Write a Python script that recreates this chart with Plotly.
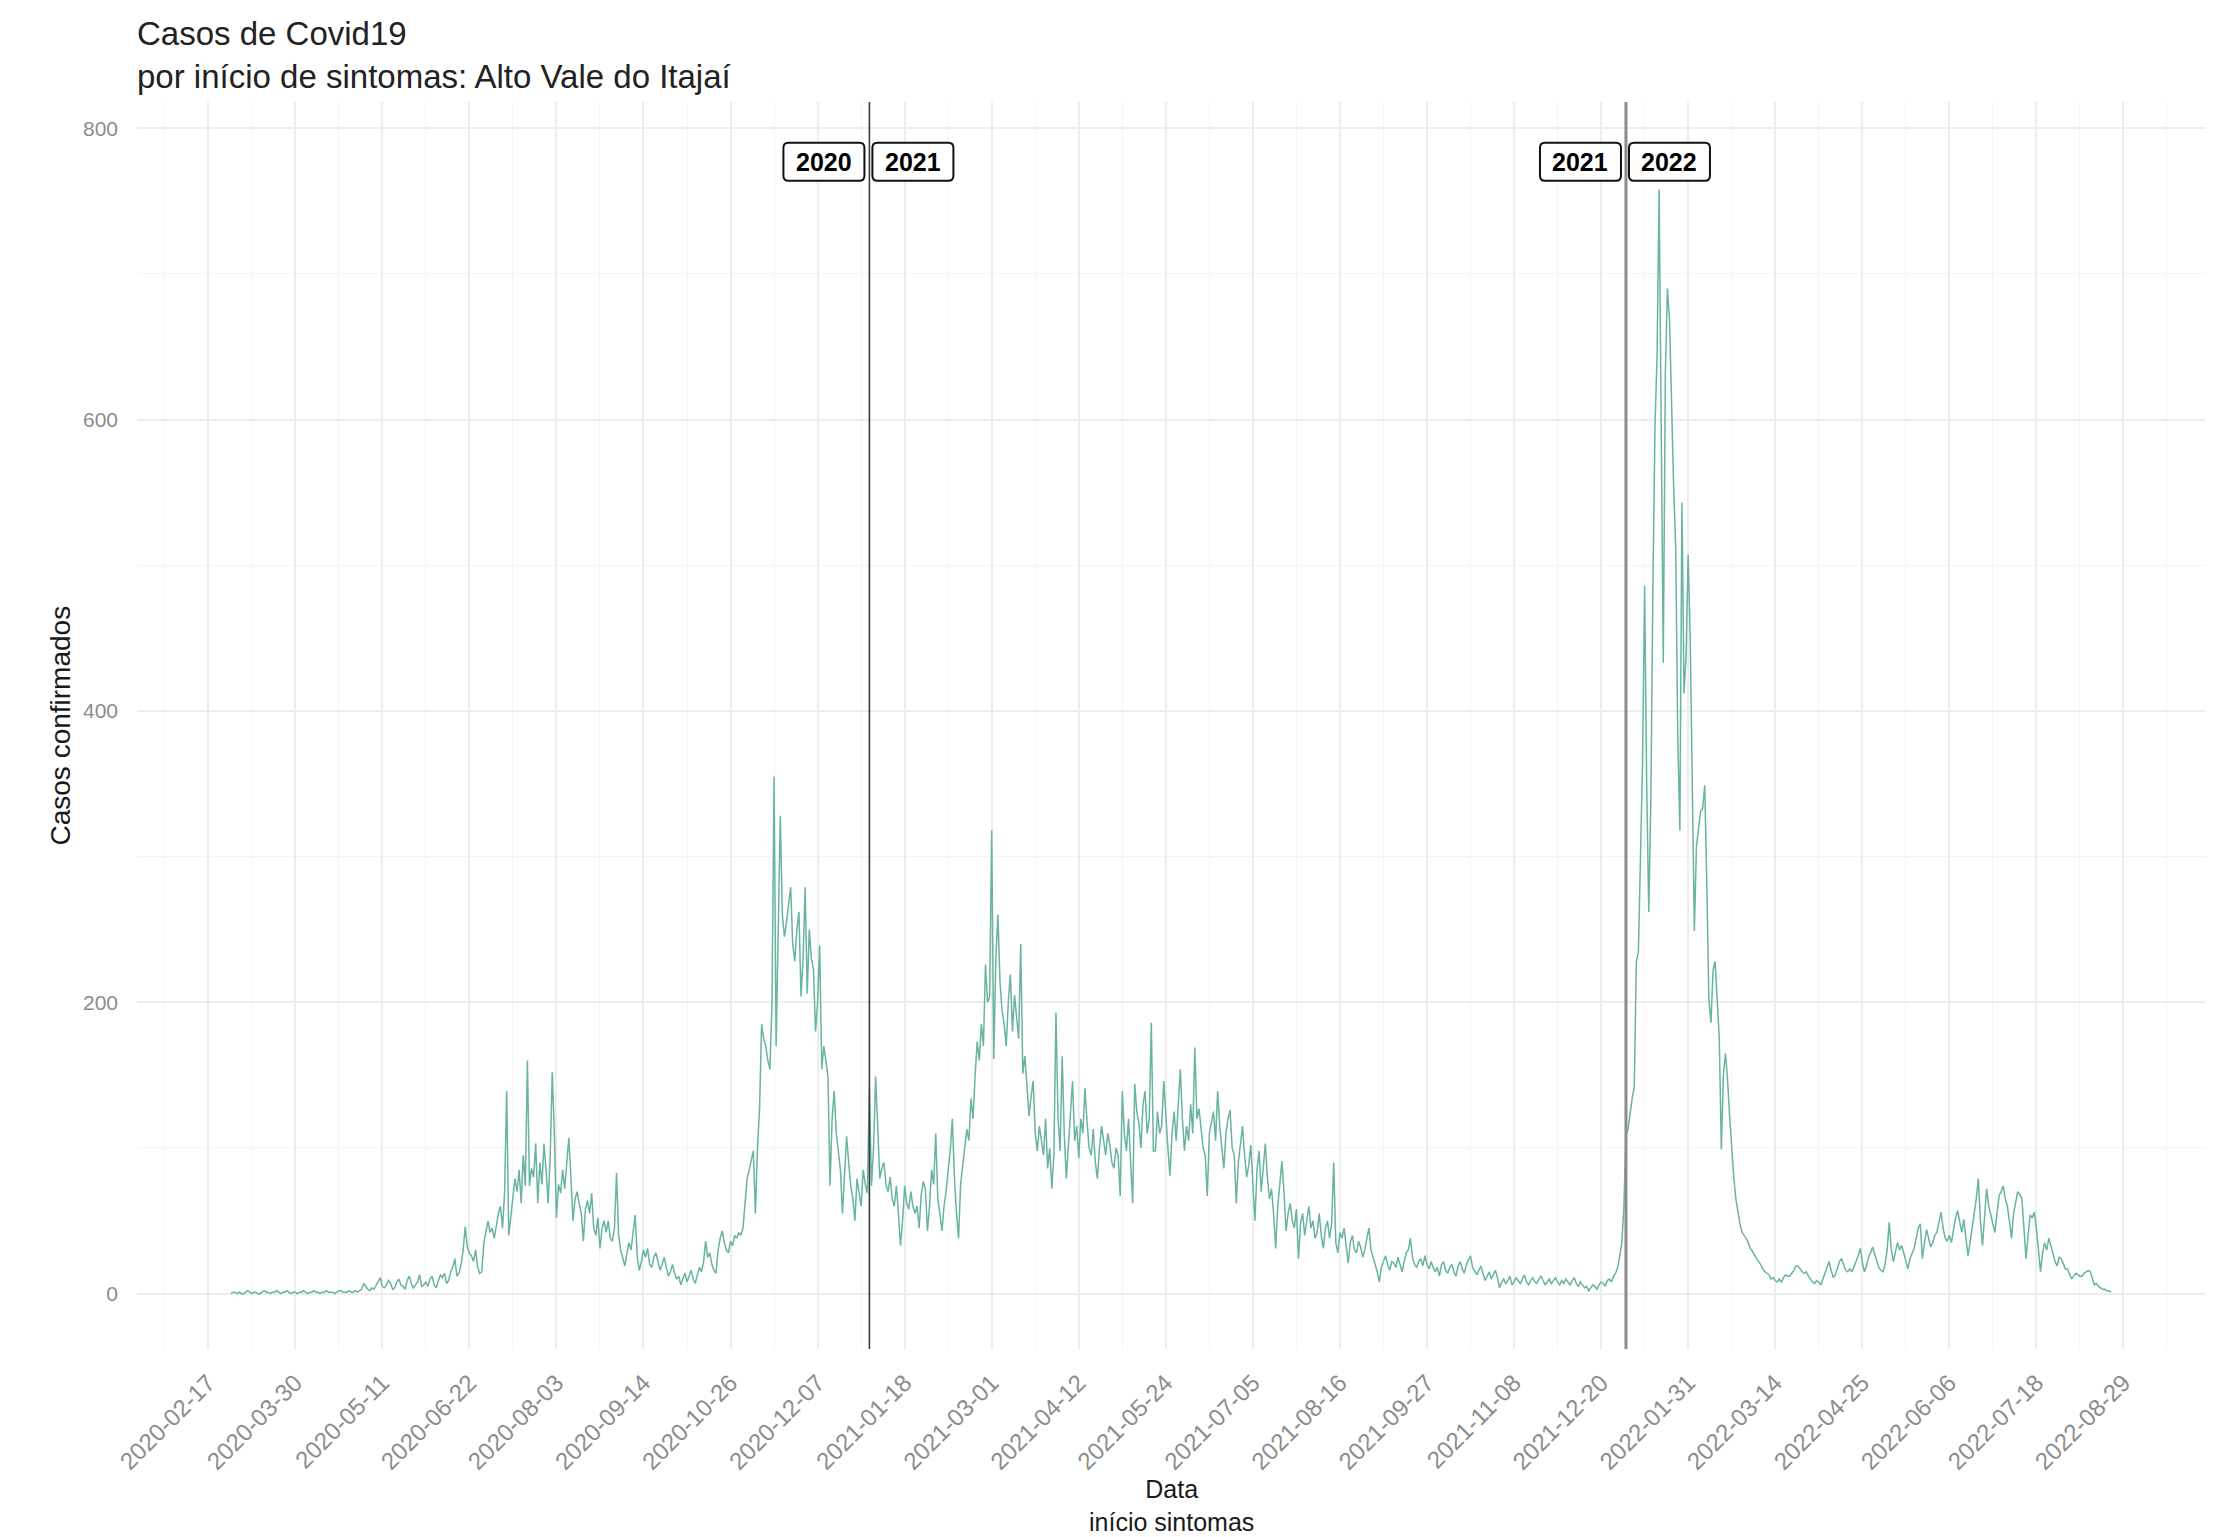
import pandas as pd
import plotly.graph_objects as go

# ---------------- data (daily confirmed cases by symptom onset) ----------------
start_date = "2020-02-28"

feb_2020 = [0, 1]
mar_2020 = [1,0,1,0,0,1,2,1,0,1,1,0,0,1,2,1,1,0,1,1,2,1,0,1,1,2,1,0,1,1,0]
apr_2020 = [1,1,2,1,0,1,1,2,1,1,0,1,1,2,1,1,1,0,1,2,2,1,1,1,2,1,1,2,1,2]
may_2020 = [3,7,5,3,2,4,3,6,8,11,5,4,6,9,7,3,4,8,10,6,5,3,9,12,7,4,6,8,13,5,6]
jun_2020 = [8,5,10,12,6,4,9,13,11,14,7,9,15,18,24,12,14,20,30,46,32,28,26,22,30,18,14,15,35,44]
jul_2020 = [50,42,45,38,48,55,60,45,70,139,40,52,65,79,70,85,62,95,74,160,74,86,80,103,62,90,75,103,85,62,95]
aug_2020 = [152,110,52,75,69,85,72,90,107,80,50,65,70,62,55,36,58,64,55,69,45,40,52,31,45,50,42,50,38,36,45]
sep_2020 = [83,40,30,25,19,28,35,30,42,54,25,16,22,30,25,31,20,18,25,28,22,16,20,25,18,12,15,20,14,10]
oct_2020 = [12,6,10,14,8,12,16,10,7,13,18,15,22,36,25,28,20,16,14,30,38,43,35,30,28,36,33,40,38,42,40]
nov_2020 = [45,60,79,85,92,98,55,100,127,185,175,170,160,154,200,355,170,240,328,260,245,255,267,279,240,228,250,262,204,230]
dec_2020 = [279,206,250,230,223,180,200,239,154,170,160,149,74,120,139,110,98,85,55,80,108,90,74,65,50,79,70,60,85,75,69]

jan_2021 = [141,74,100,149,110,79,86,90,75,70,80,65,60,74,55,33,50,74,62,58,70,60,55,60,45,68,77,72,43,60,85]
feb_2021 = [75,110,65,55,43,60,70,85,98,120,80,55,38,75,90,100,113,105,134,120,150,173,160,185,170,226,200,204]
mar_2021 = [318,161,230,260,214,194,185,170,200,219,180,205,190,175,240,151,163,140,122,135,146,110,98,115,103,95,120,86,100,72,95]
apr_2021 = [193,120,98,163,110,79,100,125,146,105,115,93,120,110,141,118,100,95,113,90,79,100,115,105,95,110,102,90,86,100]
may_2021 = [95,67,139,110,98,120,90,62,144,125,117,100,130,139,110,120,186,98,98,125,110,115,146,120,100,81,110,125,105,130,154]
jun_2021 = [120,98,115,105,130,110,169,120,127,115,100,95,67,110,117,125,105,139,115,100,86,110,120,126,100,95,62,90,105,115]
jul_2021 = [95,80,88,102,75,50,85,98,70,90,103,80,65,72,55,31,60,75,91,70,43,55,62,50,45,58,24,48,55,40,52]
aug_2021 = [60,45,50,38,42,55,40,31,45,50,38,48,90,35,28,42,38,45,33,21,35,40,30,28,36,32,25,30,38,45,30]
sep_2021 = [25,20,15,8,18,22,26,20,16,22,21,18,25,20,15,22,28,30,38,25,20,18,22,24,19,26,20,17,22,18]
oct_2021 = [15,18,12,20,22,16,14,18,20,15,12,19,22,17,14,20,23,26,18,15,13,16,19,14,9,12,15,10,13,16,11]
nov_2021 = [4,8,10,7,9,12,6,8,11,9,7,10,13,8,6,9,11,8,7,10,12,9,6,8,10,7,9,11,8,6]
dec_2021 = [9,7,10,8,6,9,11,7,5,8,6,4,5,2,4,6,5,3,6,8,7,5,9,10,8,12,14,18,26,35,60]

jan_2022 = [108,113,125,134,142,228,235,302,365,486,349,262,339,486,596,643,758,596,433,632,690,669,606,554,512,381,318,543,412,438,507]
feb_2022 = [449,349,249,307,320,331,333,349,281,202,186,222,228,197,176,99,150,165,147,122,100,80,65,56,48,42,40,38]
mar_2022 = [35,31,29,26,24,22,20,17,15,14,13,10,11,9,8,10,8,11,13,12,12,14,16,19,19,17,15,14,15,12,10]
apr_2022 = [8,7,9,8,6,10,14,18,22,16,11,13,18,22,24,20,16,15,17,15,18,22,26,31,22,15,19,25,28,32]
may_2022 = [27,22,18,16,15,20,30,49,30,22,28,35,30,33,28,22,17,24,28,31,38,45,48,24,35,44,38,32,35,40,42]
jun_2022 = [48,56,45,38,36,40,35,45,52,57,48,42,51,38,26,35,44,55,65,79,50,33,55,72,60,54,48,42,55,67]
jul_2022 = [70,74,65,60,50,38,55,62,70,68,65,45,24,40,54,52,56,45,30,15,28,35,30,38,33,28,22,19,25,24,20]
aug_2022 = [17,17,14,10,12,14,13,12,12,14,15,16,15,10,6,7,5,4,3,3,2,2,1]

cases = (feb_2020 + mar_2020 + apr_2020 + may_2020 + jun_2020 + jul_2020 + aug_2020
         + sep_2020 + oct_2020 + nov_2020 + dec_2020
         + jan_2021 + feb_2021 + mar_2021 + apr_2021 + may_2021 + jun_2021 + jul_2021
         + aug_2021 + sep_2021 + oct_2021 + nov_2021 + dec_2021
         + jan_2022 + feb_2022 + mar_2022 + apr_2022 + may_2022 + jun_2022 + jul_2022 + aug_2022)
dates = pd.date_range(start_date, periods=len(cases), freq="D")

year_change_dates = ["2021-01-01", "2022-01-01"]
label_before = ["2020", "2021"]
label_after = ["2021", "2022"]
label_y = 777

x_tick0 = "2020-02-17"
x_tick_days = 42
y_ticks = [0, 200, 400, 600, 800]

title_text = "Casos de Covid19<br>por início de sintomas: Alto Vale do Itajaí"
y_title = "Casos confirmados"
x_title = "Data<br>início sintomas"

# ---------------- figure ----------------
FONT = "Liberation Sans, Arial, sans-serif"
DAY_MS = 86400000

span = dates[-1] - dates[0]
x_range = [dates[0] - 0.05 * span, dates[-1] + 0.05 * span]

fig = go.Figure()
fig.add_trace(go.Scatter(
    x=dates, y=cases, mode="lines",
    line=dict(color="#69b3a2", width=1.5),
    hoverinfo="x+y", showlegend=False,
))

line_styles = [dict(color="#3a3a3a", width=1.6), dict(color="#8c8c8c", width=3)]
shapes = []
annotations = []


def rounded_rect(x0, x1, y0, y1, r=5):
    return (f"M {x0+r},{y0} L {x1-r},{y0} Q {x1},{y0} {x1},{y0+r} "
            f"L {x1},{y1-r} Q {x1},{y1} {x1-r},{y1} L {x0+r},{y1} "
            f"Q {x0},{y1} {x0},{y1-r} L {x0},{y0+r} Q {x0},{y0} {x0+r},{y0} Z")


for i, d in enumerate(year_change_dates):
    shapes.append(dict(type="line", xref="x", yref="paper", x0=d, x1=d, y0=0, y1=1,
                       line=line_styles[i], layer="above"))
    for (bx0, bx1, txt) in [(-86, -5, label_before[i]), (3, 84, label_after[i])]:
        shapes.append(dict(type="path", xref="x", yref="y",
                           xsizemode="pixel", ysizemode="pixel",
                           xanchor=d, yanchor=label_y,
                           path=rounded_rect(bx0, bx1, -19, 19),
                           line=dict(color="#111111", width=2),
                           fillcolor="white", layer="above"))
        annotations.append(dict(x=d, y=label_y, xref="x", yref="y",
                                text=f"<b>{txt}</b>", showarrow=False,
                                xanchor="center", yanchor="middle",
                                xshift=(bx0 + bx1) / 2,
                                font=dict(family=FONT, size=25, color="#000000")))

# plot area: x 137..2205 px, y 102..1349 px
PW, PH, PL, PB = 2068, 1247, 137, 1349

annotations.append(dict(x=(135 - PL) / PW, y=(PB - 13) / PH, xref="paper", yref="paper",
                        text=title_text, showarrow=False, align="left",
                        xanchor="left", yanchor="top",
                        font=dict(family=FONT, size=33, color="#222222")))
annotations.append(dict(x=(60 - PL) / PW, y=0.5, xref="paper", yref="paper",
                        text=y_title, textangle=-90, showarrow=False,
                        xanchor="center", yanchor="middle",
                        font=dict(family=FONT, size=28, color="#1a1a1a")))
annotations.append(dict(x=0.5, y=(PB - 1473) / PH, xref="paper", yref="paper",
                        text=x_title, showarrow=False,
                        xanchor="center", yanchor="top",
                        font=dict(family=FONT, size=25, color="#1a1a1a")))

fig.update_layout(
    width=2234, height=1537,
    margin=dict(l=137, r=29, t=102, b=188),
    paper_bgcolor="white", plot_bgcolor="white",
    font=dict(family=FONT),
    shapes=shapes, annotations=annotations,
    showlegend=False,
)

fig.update_xaxes(
    type="date", range=x_range,
    tick0=x_tick0, dtick=x_tick_days * DAY_MS, tickformat="%Y-%m-%d",
    tickangle=-45, ticks="", ticklabelstandoff=14,
    tickfont=dict(family=FONT, size=24, color="#8c8c8c"),
    showgrid=True, gridcolor="#ededed", gridwidth=1.5,
    minor=dict(tick0=x_tick0, dtick=(x_tick_days // 2) * DAY_MS,
               showgrid=True, gridcolor="#f4f4f4", gridwidth=1),
    showline=False, zeroline=False,
)
fig.update_yaxes(
    range=[-38, 818], tickvals=y_ticks,
    ticks="", ticklabelstandoff=18,
    tickfont=dict(family=FONT, size=21, color="#8c8c8c"),
    showgrid=True, gridcolor="#ededed", gridwidth=1.5,
    minor=dict(dtick=100, tick0=0, showgrid=True, gridcolor="#f4f4f4", gridwidth=1),
    showline=False, zeroline=False,
)

fig.write_html("out.html", config={"displayModeBar": False},
               post_script="document.body.style.margin='0';document.body.style.overflow='hidden';")
